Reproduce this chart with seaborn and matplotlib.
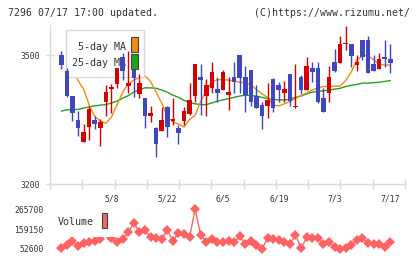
import numpy as np
import pandas as pd
import matplotlib
matplotlib.use("Agg")
import matplotlib.pyplot as plt
import seaborn as sns
from matplotlib.patches import Rectangle

# ---------------- data ----------------
tick_index = [9, 19, 29, 39, 49, 59]
tick_labels = ["5/8", "5/22", "6/5", "6/19", "7/3", "7/17"]

opens = [3500, 3462, 3405, 3349, 3299, 3334, 3349, 3330, 3390, 3421,
         3434, 3495, 3429, 3472, 3409, 3400, 3359, 3331, 3324, 3380,
         3348, 3331, 3347, 3363, 3404, 3449, 3404, 3424, 3421, 3419,
         3407, 3450, 3500, 3450, 3465, 3406, 3384, 3382, 3445, 3431,
         3413, 3456, 3379, 3450, 3419, 3471, 3471, 3400, 3413, 3484,
         3482, 3525, 3526, 3477, 3535, 3535, 3479, 3468, 3496, 3491]
highs = [3510, 3471, 3406, 3371, 3340, 3383, 3359, 3352, 3431, 3432,
         3471, 3504, 3510, 3478, 3456, 3401, 3382, 3332, 3380, 3381,
         3401, 3338, 3380, 3435, 3480, 3479, 3445, 3484, 3450, 3465,
         3450, 3484, 3501, 3475, 3466, 3431, 3392, 3436, 3446, 3437,
         3440, 3457, 3479, 3455, 3496, 3484, 3484, 3424, 3475, 3514,
         3545, 3568, 3527, 3500, 3536, 3544, 3500, 3505, 3535, 3526]
lows = [3468, 3403, 3348, 3312, 3299, 3304, 3328, 3290, 3359, 3365,
        3423, 3442, 3412, 3403, 3400, 3330, 3345, 3264, 3323, 3310,
        3338, 3294, 3338, 3361, 3392, 3361, 3359, 3411, 3390, 3418,
        3373, 3411, 3411, 3369, 3383, 3377, 3328, 3355, 3367, 3390,
        3390, 3383, 3378, 3409, 3418, 3438, 3389, 3368, 3390, 3460,
        3481, 3512, 3473, 3463, 3489, 3458, 3463, 3467, 3473, 3459]
closes = [3478, 3404, 3365, 3330, 3321, 3375, 3339, 3345, 3415, 3427,
          3471, 3464, 3435, 3448, 3435, 3359, 3365, 3294, 3349, 3334,
          3349, 3320, 3370, 3396, 3479, 3442, 3431, 3461, 3413, 3461,
          3414, 3437, 3448, 3407, 3390, 3378, 3359, 3396, 3378, 3419,
          3421, 3394, 3380, 3419, 3475, 3460, 3390, 3369, 3449, 3464,
          3526, 3526, 3499, 3484, 3496, 3459, 3464, 3491, 3490, 3482]
ma5 = [np.nan, 3484, 3465, 3441, 3421, 3384, 3357, 3347, 3342, 3356,
       3385, 3414, 3433, 3442, 3448, 3452, 3439, 3414, 3389, 3358,
       3345, 3340, 3333, 3351, 3360, 3393, 3417, 3438, 3443, 3443,
       3442, 3440, 3437, 3436, 3431, 3420, 3410, 3402, 3384, 3382,
       3387, 3392, 3400, 3406, 3412, 3419, 3424, 3427, 3427, 3428,
       3428, 3441, 3461, 3489, 3498, 3500, 3489, 3479, 3477, 3477]
ma25 = [3370, 3373, 3373, 3374, 3377, 3380, 3382, 3384, 3385, 3389,
        3393, 3400, 3406, 3414, 3420, 3424, 3424, 3423, 3419, 3414,
        3407, 3402, 3395, 3390, 3387, 3385, 3385, 3389, 3393, 3396,
        3399, 3402, 3405, 3407, 3406, 3405, 3402, 3399, 3397, 3396,
        3396, 3397, 3402, 3405, 3410, 3414, 3416, 3417, 3419, 3421,
        3423, 3427, 3430, 3432, 3435, 3435, 3436, 3437, 3439, 3441]
volume = [57900, 75700, 97000, 68600, 86300, 88100, 95200, 104100, 150000, 111200,
          89900, 107700, 141400, 194700, 141400, 153800, 116500, 109400, 105900, 153800,
          95200, 137800, 132500, 116500, 265700, 129000, 89900, 107700, 91700, 88100,
          95200, 89900, 120100, 79200, 93400, 73900, 52600, 111200, 104100, 100500,
          89900, 79200, 129000, 56200, 114800, 109400, 109400, 79200, 89900, 63300,
          52600, 57900, 73900, 100500, 109400, 84600, 79200, 77500, 63300, 89900]
price_ticks = [3200, 3500]

# ---------------- style ----------------
sns.set_theme(style="white")
plt.rcParams['font.family'] = ['DejaVu Sans Mono', 'DejaVu Sans']

RED = "#d60000"
BLUE = "#3f46c0"
ORANGE = "#f08c14"
GREEN = "#1ea51e"
VOLC = "#ff6262"
GRID = "#d9d9d9"
TXT = "#333333"

W, H = 420, 259
fig = plt.figure(figsize=(W / 100, H / 100), dpi=100)
fig.patch.set_facecolor("white")

def fr(x, y):
    return x / W, 1 - y / H

XLO, XHI = -2.03, 61.64

# ---------------- price panel ----------------
ax = fig.add_axes([50 / W, 1 - 184.3 / H, 355 / W, 159.3 / H])
ax.set_facecolor("none")
n = len(opens)
idx = np.arange(n)
o = np.array(opens, float); c = np.array(closes, float)
h = np.array(highs, float); l = np.array(lows, float)
up = c >= o
cols = np.where(up, RED, BLUE)
body_lo = np.minimum(o, c)
body_h = np.maximum(np.abs(c - o), 2.6)

df = pd.DataFrame({"i": idx, "ma5": ma5, "ma25": ma25})
sns.lineplot(data=df, x="i", y="ma25", ax=ax, color=GREEN, lw=1.0, zorder=1)
sns.lineplot(data=df, x="i", y="ma5", ax=ax, color=ORANGE, lw=1.0, zorder=1)

ax.vlines(idx, l, h, colors=cols, lw=1.0, zorder=3)
ax.bar(idx, body_h, bottom=body_lo, width=0.82, color=cols, linewidth=0, zorder=3)

ax.set_xlim(XLO, XHI)
ax.set_ylim(3200, 3570)
ax.set_xlabel(""); ax.set_ylabel("")
for s in ["top", "right"]:
    ax.spines[s].set_visible(False)
for s in ["left", "bottom"]:
    ax.spines[s].set_color(GRID)
    ax.spines[s].set_linewidth(1.0)
ax.set_yticks(price_ticks)
ax.set_yticklabels([str(v) for v in price_ticks])
ax.set_xticks([idx[k] for k in tick_index])
ax.set_xticklabels(tick_labels)
ax.set_xticks(np.linspace(XLO, XHI, 12), minor=True)
ax.tick_params(axis="x", which="major", length=0, pad=7, labelsize=5.8, labelcolor=TXT)
ax.tick_params(axis="x", which="minor", direction="inout", length=6.5, width=1.0, color=GRID, bottom=True)
ax.tick_params(axis="y", direction="inout", length=6, width=1.0, color=GRID, pad=4,
               labelsize=5.8, labelcolor=TXT, left=True)

# legend box (price)
x0, y0 = fr(65.7, 77.3); x1, y1 = fr(144, 30)
ax.add_patch(Rectangle((x0, y0), x1 - x0, y1 - y0, transform=fig.transFigure,
                       facecolor="white", edgecolor=GRID, lw=1.0, zorder=2, clip_on=False))
tx, ty = fr(125.5, 46.5)
ax.text(tx, ty, "5-day MA", transform=fig.transFigure, ha="right", va="center",
        fontsize=7.2, color=TXT, zorder=2.5)
tx, ty = fr(125.5, 63)
ax.text(tx, ty, "25-day MA", transform=fig.transFigure, ha="right", va="center",
        fontsize=7.2, color=TXT, zorder=2.5)
for (yt, yb, colr) in [(37.3, 52.3, ORANGE), (54.3, 68.8, GREEN)]:
    a0, b0 = fr(131.2, yb); a1, b1 = fr(137.8, yt)
    ax.add_patch(Rectangle((a0, b0), a1 - a0, b1 - b0, transform=fig.transFigure,
                           facecolor=colr, edgecolor="#444444", lw=0.8, zorder=4, clip_on=False))

# ---------------- volume panel ----------------
axv = fig.add_axes([50 / W, 1 - 249 / H, 355 / W, 39.7 / H])
axv.set_facecolor("none")
vmin, vmax = min(volume), max(volume)
dv = pd.DataFrame({"i": idx, "v": volume})
sns.lineplot(data=dv, x="i", y="v", ax=axv, color=VOLC, lw=1.0, marker="D",
             markersize=4.8, markeredgewidth=0, markerfacecolor=VOLC, clip_on=False, zorder=1)
axv.set_xlim(XLO, XHI)
axv.set_ylim(vmin, vmax)
axv.set_xlabel(""); axv.set_ylabel("")
for s in axv.spines.values():
    s.set_visible(False)
axv.set_xticks([])
vt = [vmin, (vmin + vmax) / 2, vmax]
axv.set_yticks(vt)
axv.set_yticklabels([f"{int(v)}" for v in vt])
axv.tick_params(axis="y", length=0, pad=4.5, labelsize=5.8, labelcolor=TXT)

# volume legend (white box hides line beneath)
x0, y0 = fr(55, 237.3); x1, y1 = fr(116, 205)
axv.add_patch(Rectangle((x0, y0), x1 - x0, y1 - y0, transform=fig.transFigure,
                        facecolor="white", edgecolor="none", zorder=2, clip_on=False))
tx, ty = fr(58, 222)
axv.text(tx, ty, "Volume", transform=fig.transFigure, ha="left", va="center",
         fontsize=7.2, color=TXT, zorder=3)
a0, b0 = fr(101.7, 228); a1, b1 = fr(107.3, 213)
axv.add_patch(Rectangle((a0, b0), a1 - a0, b1 - b0, transform=fig.transFigure,
                        facecolor=VOLC, edgecolor="#444444", lw=0.8, zorder=3, clip_on=False))

# ---------------- header ----------------
tx, ty = fr(8, 12.5)
fig.text(tx, ty, "7296 07/17 17:00 updated.", ha="left", va="center", fontsize=7.1, color=TXT)
tx, ty = fr(410, 12.5)
fig.text(tx, ty, "(C)https://www.rizumu.net/", ha="right", va="center", fontsize=7.1, color=TXT)

fig.savefig("out.png", dpi=100, facecolor="white")
